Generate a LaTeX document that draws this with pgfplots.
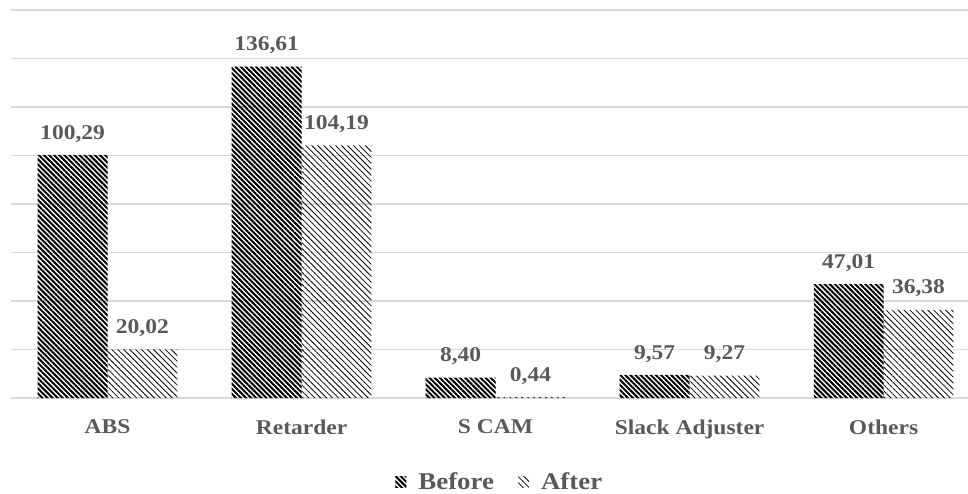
\documentclass[border=0pt]{standalone}
\usepackage{fontspec}
\setmainfont{Liberation Serif}[FakeStretch=1.12]
\usepackage{pgfplots}
\pgfplotsset{compat=1.18}
\usetikzlibrary{patterns.meta}
\definecolor{txtgray}{HTML}{595959}
\definecolor{gridgray}{HTML}{D9D9D9}

\begin{document}
\begin{tikzpicture}
\useasboundingbox (-10.5pt,-95pt) rectangle (957.5pt,398pt);
\begin{axis}[
    scale only axis,
    width=957.5pt, height=388pt,
    xmin=-0.5, xmax=4.435,
    ymin=0, ymax=160,
    ytick={0,20,...,160},
    yticklabels={},
    ymajorgrids=true,
    grid style={gridgray, line width=1.6pt},
    axis line style={draw=none},
    major tick length=0pt,
    xtick=data,
    xticklabels={ABS,Retarder,S CAM,Slack Adjuster,Others},
    xticklabel style={font=\fontsize{21}{24}\selectfont\bfseries, text=txtgray, yshift=-18pt},
    ybar=0pt,
    bar width=0.36,
    nodes near coords,
    point meta=explicit symbolic,
    every node near coord/.append style={font=\fontsize{21}{24}\selectfont\bfseries, text=txtgray, yshift=9pt},
    legend style={at={(0.511,-0.2165)}, anchor=center, draw=none, legend columns=2,
        font=\fontsize{24}{27}\selectfont\bfseries, text=txtgray,
        /tikz/every even column/.append style={column sep=22pt}},
    legend image code/.code={\fill[#1] (0pt,-5pt) rectangle (11pt,6pt);},
]
\addplot[draw=none, pattern={Lines[angle=-45,distance=3.6pt,line width=2pt]}, pattern color=black]
    coordinates {
(0,100.29) [{100,29}]
(1,136.61) [{136,61}]
(2,8.40) [{8,40}]
(3,9.57) [{9,57}]
(4,47.01) [{47,01}]
    };
\addplot[draw=none, pattern={Lines[angle=-45,distance=4.2pt,line width=0.8pt]}, pattern color=black]
    coordinates {
(0,20.02) [{20,02}]
(1,104.19) [{104,19}]
(2,0.44) [{0,44}]
(3,9.27) [{9,27}]
(4,36.38) [{36,38}]
    };
\legend{\hspace{10pt}Before,\hspace{10pt}After}
\end{axis}
\end{tikzpicture}
\end{document}
